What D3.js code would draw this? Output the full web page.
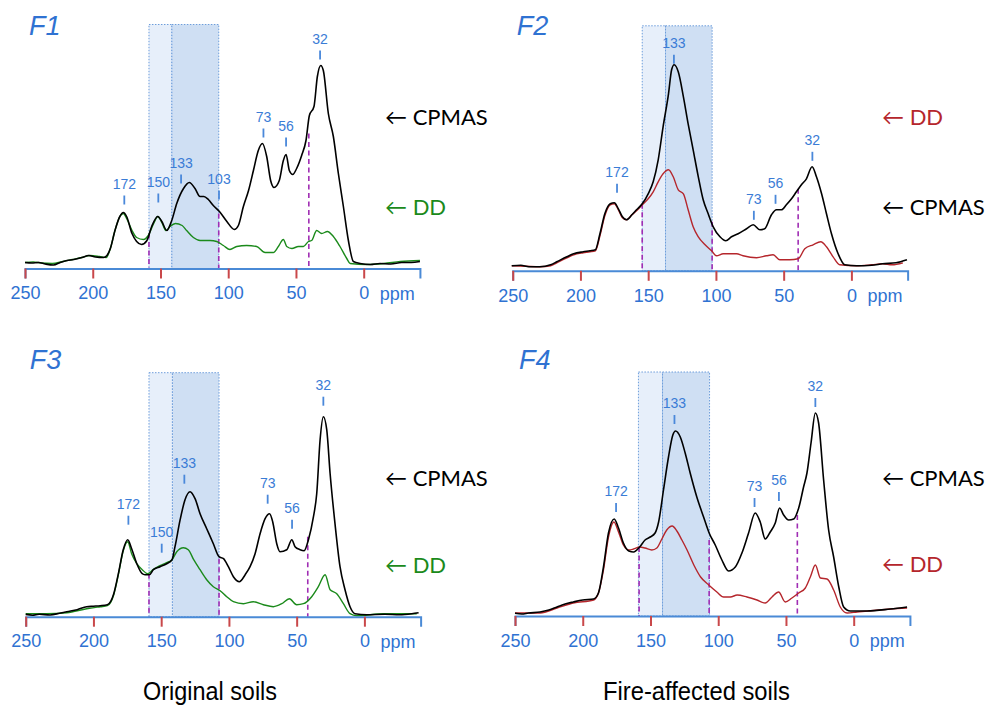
<!DOCTYPE html>
<html lang="en">
<head>
<meta charset="UTF-8">
<title>13C NMR spectra - original and fire-affected soils</title>
<script src="https://cdnjs.cloudflare.com/ajax/libs/d3/7.8.5/d3.min.js"></script>
<style>
  body { margin: 0; background: #fff; }
  svg { display: block; }
</style>
</head>
<body>
<div id="chart"></div>
<script>
// shift axis ticks (ppm)
const ppmTicks = [250, 200, 150, 100, 50, 0];

// F1 - original soil
const f1Cpmas = [[250,6],[245,5.5],[240,6],[235,4.5],[229,3.5],[224,6],[219,8],[214,9],[208,11],[203,13],[198,11.5],[192,11],[189.5,13],[187,20],[183.6,38],[180,52],[177.4,56],[175,52],[171,35],[167.6,27],[164,24],[160,28],[156.5,42],[152,52],[149,47],[145.4,38],[141.7,48],[138,65],[133,80],[128.7,86],[124.5,80],[120.8,72],[118,72],[114.7,69],[111,63],[106.5,57],[101,47],[95.5,39],[92.5,43],[88.8,62],[85,78],[81.4,98],[77.8,118],[74.8,125],[71.6,112],[68.7,88],[66.2,81],[62.3,88],[59.3,108],[57.3,114],[54.9,98],[52.4,94],[49.5,100],[45.8,113],[42.6,128],[40.1,153],[36.7,162],[34.2,192],[31.7,203],[29.8,198],[26.1,155],[22.4,132],[18.7,95],[15,62],[11.3,28],[7.6,7],[2.7,5],[-5,4],[-12,5],[-20,4.5],[-28,6],[-35,6],[-41.5,7]];
const f1Dd = [[250,6],[244,6.5],[238,5.5],[230,5],[222,7],[215,9],[208,11],[202,13],[195,12],[190,11],[187,20],[183.6,38],[180,52],[177.4,55],[175,50],[171,38],[167.6,31],[162.6,29],[159,33],[155,45],[152,52],[149,46],[146,38],[143,42],[139,45],[134,43],[130.7,38],[125.7,31],[120.8,28],[113.4,28],[108.5,27],[103.6,23],[98.7,19],[93.7,22],[86.4,23],[79,22],[72.8,16],[66.7,16],[63,22],[59.3,29],[56.8,22],[53,20],[48.2,22],[44.5,22],[40.8,27],[38.4,28],[34.7,38],[31,35],[26.8,37],[22.4,32],[17.5,22],[12.5,10],[10,5],[-2,4],[-15,5],[-27,7],[-41.5,8]];
const f1Bands = [[158.5, 141.6], [141.6, 107]];
const f1BandTop = 244;
const f1Drops = [[158.5, 35], [107, 55], [40.5, 135]];
const f1Peaks = [["172", 176.7, 64], ["150", 151.6, 66], ["133", 134.8, 85], ["103", 106.8, 69], ["73", 74, 131], ["56", 57.3, 122], ["32", 32.2, 209]];

// F2 - fire-affected soil
const f2Cpmas = [[250.7,5],[244,5.5],[238,4],[230,4],[222,6],[217.5,9],[210,14],[205,17],[198,19],[193,20],[189,21],[185.6,37],[182,57],[178,67],[175,68],[172,62],[169,54],[166,51],[162,56],[158.6,61],[154.4,67],[150,77],[146.3,89],[142.6,111],[139,144],[135,177],[132.7,201],[130.8,206],[127.8,199],[124,174],[120.5,147],[116.8,121],[113,94],[109.4,71],[105.7,57],[102,44],[97,34],[92.7,30],[88.5,34],[83.6,37],[77.4,42],[72.5,46],[67.6,41],[64,42],[59,56],[55.3,61],[51.6,61],[48,66],[44.2,72],[40.6,79],[36.9,86],[33.2,92],[29,104],[25.8,94],[22,77],[18.4,57],[14.7,37],[9.8,17],[4.9,6],[-3.7,5],[-15,5.5],[-23,7],[-33,8],[-41,11]];
const f2Dd = [[250.7,5],[240,4.5],[230,4],[222,5],[217.5,8],[210,13],[205,16],[198,18],[193,19],[189,20],[185.6,35],[182,55],[178,66],[175,67],[172,61],[169,53],[166,51],[162,56],[158.6,60],[154.4,66],[150,72],[146.3,79],[142.6,89],[139,97],[135,101],[131.5,94],[127.8,81],[124,77],[120.5,61],[116.8,44],[113,34],[108,26],[103.2,20],[99.6,15],[94.6,17],[84.8,17],[80,15],[70,13],[62.7,15],[57.8,16],[52.9,11],[45.5,11],[39.3,12],[34.4,22],[28.3,26],[22.6,29],[18.4,24],[13.5,14],[8.6,6],[-3.7,5],[-15,6],[-23,7],[-30,6],[-38,8]];
const f2Bands = [[154.4, 137.2], [137.2, 102.8]];
const f2BandTop = 245;
const f2Drops = [[154.4, 67], [102.8, 49], [39.3, 82]];
const f2Peaks = [["172", 173, 78], ["133", 131, 207], ["73", 72, 51], ["56", 56, 67], ["32", 28.8, 110]];

// F3 - original soil
const f3Cpmas = [[250,2.3],[245,1.5],[240,2.5],[232,1.7],[225,3.5],[219.7,5],[212,7],[205,10],[200,10.5],[195,11],[189.7,12],[185,23],[181.6,43],[178,67],[174.7,77],[171.8,68],[168,53],[164,43],[162,42],[158.7,42],[155.8,47],[150.8,50],[146,53],[142,57],[139.8,70],[136,97],[132.4,117],[128.7,125],[125,118],[121.3,103],[116.4,88],[111.5,73],[107.3,60],[104,58],[100.4,50],[96.7,40],[92.3,35],[88,42],[84.4,50],[80.7,63],[77,83],[73.3,98],[70,103],[67.7,95],[64.7,73],[62.3,65],[57.3,67],[53.6,77],[51.2,70],[47.5,67],[44.5,66],[41.3,77],[37.6,100],[35.2,123],[32.7,177],[30.3,200],[27.8,187],[25.3,143],[21.7,93],[18,50],[14.3,27],[10.6,10],[6.9,3],[-1.7,2],[-15,2.5],[-26,2],[-35,3],[-40,4]];
const f3Dd = [[250,3],[235,3],[219.7,4],[205,8],[195,10],[189.7,11],[185,22],[181.6,42],[178,66],[174.7,75],[171.8,63],[168,53],[164,47],[160,43],[156,47],[151,51],[146,54],[142,57],[138.5,65],[133.6,69],[130,67],[126,57],[121.3,47],[116.4,37],[111.5,30],[106.5,26],[101.6,20],[96.7,15],[89.3,13],[82,15],[74.6,12],[67.2,10],[61,13],[55.4,18],[50,12],[45,13],[38.9,20],[34,30],[29,42],[25.3,27],[20.4,23],[15.5,13],[10.6,3],[5.7,1],[-14,3],[-38.6,3]];
const f3Bands = [[159, 141.7], [141.7, 107.3]];
const f3BandTop = 244;
const f3Drops = [[159, 43], [107.3, 58], [41.8, 80]];
const f3Peaks = [["172", 174.2, 92], ["150", 149.6, 64], ["133", 132.9, 133], ["73", 71.4, 113], ["56", 53.4, 88], ["32", 30.3, 211]];

// F4 - fire-affected soil
const f4Cpmas = [[250,2.7],[245,2],[240,3],[231.5,4],[225,6],[219,9],[213,12],[207,14],[200,16],[192,17],[188.4,23],[184.7,49],[181,83],[176.8,97],[173.6,88],[170,73],[166,65],[162.5,64],[158,69],[154,76],[150.2,79],[146.6,83],[144,94],[140.4,126],[136.7,159],[133.5,181],[131.5,185],[128,179],[124.4,163],[120.7,143],[115.8,119],[110.8,99],[106.7,83],[102.2,71],[97.3,56],[92.4,45],[87.4,49],[82.5,63],[77.6,83],[72.7,103],[69,94],[65.3,77],[61.6,84],[57.9,93],[54.7,108],[51.7,101],[48,96],[44.3,97],[40.6,108],[37,129],[34.5,143],[31.5,173],[28.3,203],[25.9,193],[22.2,136],[18.5,86],[14.8,59],[11,29],[7.4,9],[2.5,5],[-9.9,5],[-27,7],[-39.4,9]];
const f4Dd = [[250,3],[231.5,3],[219,8],[207,13],[192,16],[188.4,23],[184.7,46],[181,79],[177,94],[173.6,84],[170,71],[166,66],[162.5,67],[158,69],[154,68],[149,66],[145.3,68],[141.6,77],[138,86],[134,90],[130.5,85],[126.8,76],[123,66],[118,51],[113,39],[107,31],[101,24],[96,19],[91,19],[86,21],[78.8,19],[71.4,16],[65.3,13],[60.3,19],[55.4,24],[50.5,14],[45.6,18],[40.6,23],[35.7,28],[32,39],[28.3,51],[24.6,38],[19.7,37],[14.8,26],[9.9,9],[4.9,3],[-2.5,4],[-27,7],[-39.4,8]];
const f4Bands = [[158.9, 141.1], [141.1, 106.4]];
const f4BandTop = 244;
const f4Drops = [[158.4, 69], [106.7, 76], [41.6, 101]];
const f4Peaks = [["172", 175.4, 104], ["133", 132.3, 192], ["73", 73.2, 109], ["56", 55.2, 115], ["32", 28.3, 209]];

const groupTitles = ["Original soils", "Fire-affected soils"];

const W = 987, H = 707;
const blue = "#2f72d2";
const ddGreen = "#1b8a1b", ddRed = "#b5262c";
const arial = "'Liberation Sans', Arial, sans-serif";

// panel layout (pixel placement only)
const panels = [
  { name: "F1", x0: 25,    axisY: 268.5, titleY: 35,  cp: f1Cpmas, dd: f1Dd, ddColor: ddGreen, bands: f1Bands, top: f1BandTop, drops: f1Drops, peaks: f1Peaks, legX: 385, cpY: 117, ddY: 207 },
  { name: "F2", x0: 512.7, axisY: 270.8, titleY: 35,  cp: f2Cpmas, dd: f2Dd, ddColor: ddRed,   bands: f2Bands, top: f2BandTop, drops: f2Drops, peaks: f2Peaks, legX: 882, cpY: 207, ddY: 117 },
  { name: "F3", x0: 25.7,  axisY: 616.7, titleY: 369, cp: f3Cpmas, dd: f3Dd, ddColor: ddGreen, bands: f3Bands, top: f3BandTop, drops: f3Drops, peaks: f3Peaks, legX: 385, cpY: 478, ddY: 565 },
  { name: "F4", x0: 515,   axisY: 616,   titleY: 369, cp: f4Cpmas, dd: f4Dd, ddColor: ddRed,   bands: f4Bands, top: f4BandTop, drops: f4Drops, peaks: f4Peaks, legX: 882, cpY: 478, ddY: 564 }
];

const pxPerPpm = 338.7 / 250;

const svg = d3.select("#chart").append("svg")
  .attr("width", W).attr("height", H);

panels.forEach(p => {
  const x = d3.scaleLinear().domain([250, -41.5]).range([p.x0, p.x0 + 291.5 * pxPerPpm]);
  const y = d3.scaleLinear().domain([0, 250]).range([p.axisY, p.axisY - 250]);
  const g = svg.append("g");

  // shaded aromatic regions
  g.selectAll("rect.band").data(p.bands).enter().append("rect")
    .attr("x", d => x(d[0]))
    .attr("y", y(p.top))
    .attr("width", d => x(d[1]) - x(d[0]))
    .attr("height", y(0) - y(p.top))
    .attr("fill", (d, i) => i === 0 ? "#e7effa" : "#cfdff3")
    .attr("stroke", "#6d9ddb")
    .attr("stroke-width", 1)
    .attr("stroke-dasharray", "1.5,1.5");

  // purple drop lines
  g.selectAll("line.drop").data(p.drops).enter().append("line")
    .attr("x1", d => x(d[0])).attr("x2", d => x(d[0]))
    .attr("y1", d => y(d[1])).attr("y2", y(0))
    .attr("stroke", "#a02eb4")
    .attr("stroke-width", 1.6)
    .attr("stroke-dasharray", "5,3.5");

  const line = d3.line()
    .x(d => x(d[0]))
    .y(d => y(d[1]))
    .curve(d3.curveMonotoneX);

  g.append("path").datum(p.dd)
    .attr("d", line)
    .attr("fill", "none")
    .attr("stroke", p.ddColor)
    .attr("stroke-width", 1.4);

  g.append("path").datum(p.cp)
    .attr("d", line)
    .attr("fill", "none")
    .attr("stroke", "#000")
    .attr("stroke-width", 1.6);

  // axis
  const axis = d3.axisBottom(x).tickValues(ppmTicks).tickSize(10).tickPadding(8);
  const ax = g.append("g").attr("transform", `translate(0,${p.axisY})`).call(axis)
    .attr("font-family", arial).attr("font-size", 18);
  ax.select(".domain").attr("stroke", "#4a8ad6").attr("stroke-width", 2);
  ax.selectAll(".tick line").attr("stroke", "#c9484a").attr("stroke-width", 2);
  ax.selectAll(".tick text").attr("fill", blue);
  g.append("text")
    .attr("x", x(0) + 16)
    .attr("y", p.axisY + 31)
    .attr("fill", blue)
    .attr("font-family", arial)
    .attr("font-size", 18)
    .text("ppm");

  // peak markers
  const pk = g.selectAll("g.peak").data(p.peaks).enter().append("g");
  pk.append("line")
    .attr("x1", d => x(d[1])).attr("x2", d => x(d[1]))
    .attr("y1", d => y(d[2])).attr("y2", d => y(d[2]) - 9)
    .attr("stroke", "#4a88da").attr("stroke-width", 1.8);
  pk.append("text")
    .attr("x", d => x(d[1]))
    .attr("y", d => y(d[2]) - 16)
    .attr("text-anchor", "middle")
    .attr("fill", "#3a7cd6")
    .attr("font-family", arial)
    .attr("font-size", 14)
    .text(d => d[0]);

  // panel title
  g.append("text")
    .attr("x", p.x0 + 4)
    .attr("y", p.titleY)
    .attr("fill", "#2f72d2")
    .attr("font-family", arial)
    .attr("font-size", 27)
    .attr("font-style", "italic")
    .text(p.name);

  // series labels
  const lab = [["\u2190 CPMAS", p.cpY, "#000"], ["\u2190 DD", p.ddY, p.ddColor]];
  g.selectAll("text.series").data(lab).enter().append("text")
    .attr("x", p.legX)
    .attr("y", d => d[1] + 8)
    .attr("fill", d => d[2])
    .attr("font-family", "Lato, 'Open Sans', sans-serif")
    .attr("font-size", 22)
    .text(d => d[0]);
});

// group captions (narrow look, squeezed to the reference width)
svg.selectAll("text.caption").data(groupTitles).enter().append("text")
  .attr("x", (d, i) => i === 0 ? 143 : 603)
  .attr("y", 700)
  .attr("fill", "#000")
  .attr("font-family", arial)
  .attr("font-size", 25)
  .attr("textLength", (d, i) => i === 0 ? 134 : 187)
  .attr("lengthAdjust", "spacingAndGlyphs")
  .text(d => d);
</script>
</body>
</html>
